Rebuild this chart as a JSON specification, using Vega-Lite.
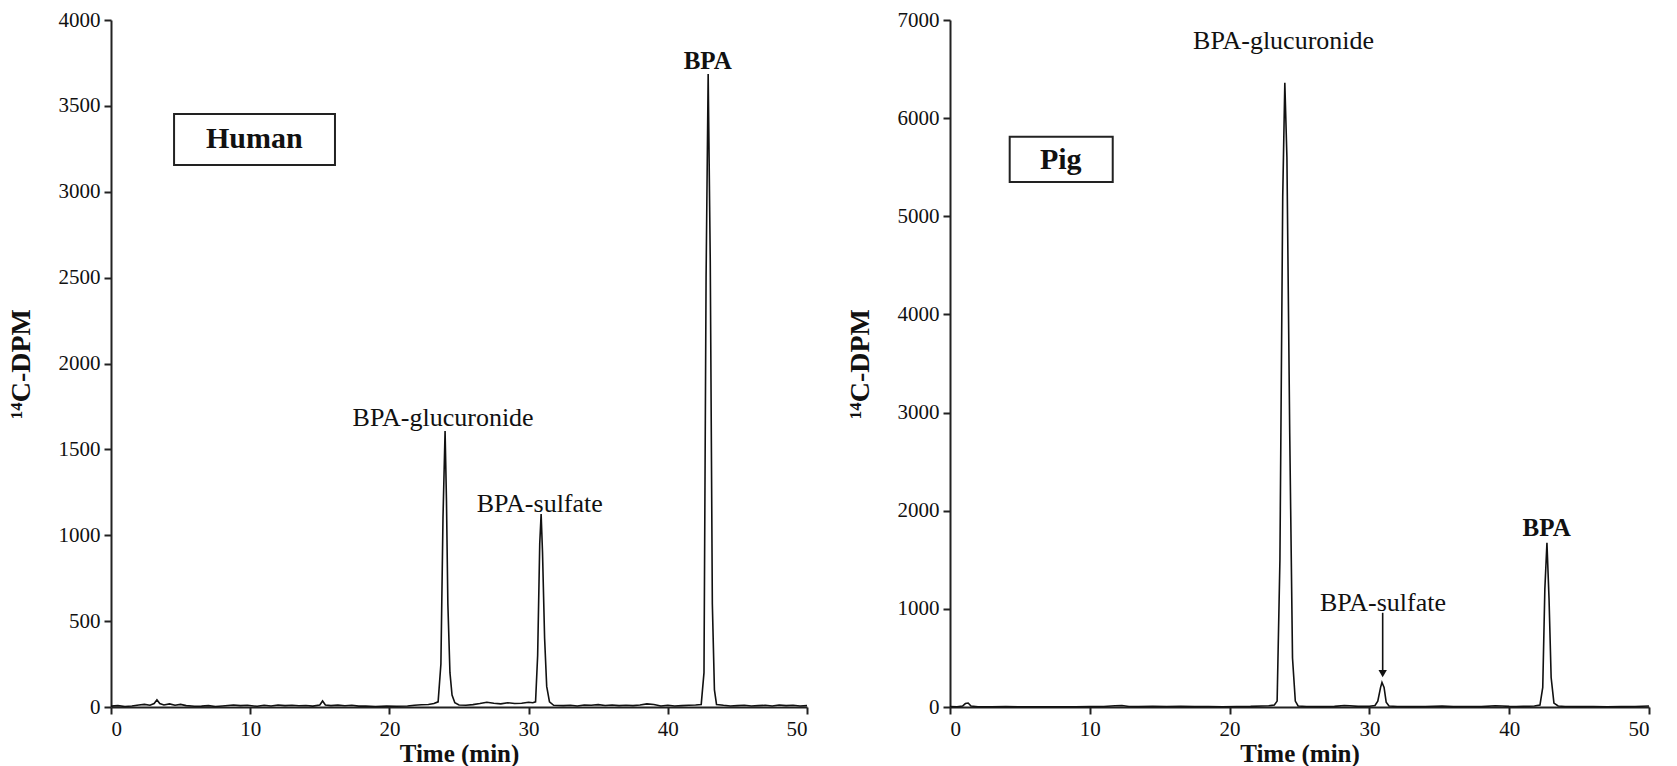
{
  "$schema": "https://vega.github.io/schema/vega-lite/v6.json",
  "background": "white",
  "padding": {"left": 7, "top": 9, "right": 5, "bottom": 0},
  "spacing": 143,
  "bounds": "flush",
  "config": {
    "view": {"stroke": null},
    "font": "Liberation Serif",
    "axis": {
      "grid": false,
      "domainColor": "#222",
      "domainWidth": 2,
      "tickColor": "#222",
      "tickWidth": 2,
      "tickSize": 7,
      "labelColor": "#111",
      "labelFont": "Liberation Serif",
      "labelFontSize": 21,
      "labelPadding": 4,
      "format": "d",
      "titleColor": "#111",
      "titleFont": "Liberation Serif",
      "titleFontSize": 25,
      "titleFontWeight": "bold"
    }
  },
  "datasets": {
    "human": [
      {"t": 0, "v": 5}, {"t": 0.5, "v": 8}, {"t": 1, "v": 3}, {"t": 1.5, "v": 6}, {"t": 2, "v": 12}, {"t": 2.4, "v": 15}, {"t": 2.8, "v": 10}, {"t": 3.1, "v": 20}, {"t": 3.3, "v": 42}, {"t": 3.5, "v": 20}, {"t": 3.8, "v": 12}, {"t": 4.2, "v": 18}, {"t": 4.6, "v": 10}, {"t": 5, "v": 15}, {"t": 5.4, "v": 8}, {"t": 6, "v": 4}, {"t": 6.5, "v": 5}, {"t": 7, "v": 8}, {"t": 7.5, "v": 3}, {"t": 8, "v": 6}, {"t": 8.8, "v": 12}, {"t": 9.3, "v": 8}, {"t": 9.8, "v": 10}, {"t": 10.5, "v": 4}, {"t": 11, "v": 10}, {"t": 11.5, "v": 6}, {"t": 12, "v": 12}, {"t": 12.5, "v": 8}, {"t": 13, "v": 10}, {"t": 13.5, "v": 7}, {"t": 14, "v": 9}, {"t": 14.5, "v": 5}, {"t": 15, "v": 12}, {"t": 15.2, "v": 35}, {"t": 15.4, "v": 12}, {"t": 15.8, "v": 8}, {"t": 16.3, "v": 11}, {"t": 16.8, "v": 7}, {"t": 17.3, "v": 10}, {"t": 17.8, "v": 5}, {"t": 18.3, "v": 6}, {"t": 19, "v": 3}, {"t": 19.8, "v": 5}, {"t": 20.5, "v": 4}, {"t": 21.3, "v": 6}, {"t": 21.8, "v": 10}, {"t": 22.3, "v": 13}, {"t": 22.8, "v": 15}, {"t": 23.2, "v": 20}, {"t": 23.5, "v": 30}, {"t": 23.7, "v": 250}, {"t": 23.85, "v": 1100}, {"t": 24.0, "v": 1607}, {"t": 24.1, "v": 1200}, {"t": 24.2, "v": 600}, {"t": 24.35, "v": 200}, {"t": 24.5, "v": 70}, {"t": 24.7, "v": 25}, {"t": 25, "v": 12}, {"t": 25.5, "v": 10}, {"t": 26, "v": 14}, {"t": 26.5, "v": 20}, {"t": 27, "v": 28}, {"t": 27.5, "v": 22}, {"t": 28, "v": 18}, {"t": 28.5, "v": 25}, {"t": 29, "v": 20}, {"t": 29.5, "v": 22}, {"t": 30, "v": 28}, {"t": 30.3, "v": 25}, {"t": 30.5, "v": 30}, {"t": 30.65, "v": 300}, {"t": 30.8, "v": 950}, {"t": 30.9, "v": 1124}, {"t": 31.0, "v": 900}, {"t": 31.15, "v": 400}, {"t": 31.3, "v": 120}, {"t": 31.5, "v": 30}, {"t": 31.8, "v": 10}, {"t": 32.5, "v": 8}, {"t": 33, "v": 10}, {"t": 33.5, "v": 6}, {"t": 34, "v": 12}, {"t": 34.5, "v": 10}, {"t": 35, "v": 14}, {"t": 35.5, "v": 9}, {"t": 36, "v": 12}, {"t": 36.5, "v": 8}, {"t": 37, "v": 10}, {"t": 37.5, "v": 8}, {"t": 38, "v": 12}, {"t": 38.5, "v": 18}, {"t": 39, "v": 15}, {"t": 39.5, "v": 6}, {"t": 40, "v": 10}, {"t": 40.5, "v": 6}, {"t": 41, "v": 8}, {"t": 41.5, "v": 10}, {"t": 42, "v": 12}, {"t": 42.4, "v": 15}, {"t": 42.6, "v": 200}, {"t": 42.75, "v": 2500}, {"t": 42.9, "v": 3686}, {"t": 43.05, "v": 2600}, {"t": 43.2, "v": 600}, {"t": 43.35, "v": 100}, {"t": 43.5, "v": 15}, {"t": 44, "v": 10}, {"t": 44.5, "v": 6}, {"t": 45, "v": 8}, {"t": 45.5, "v": 10}, {"t": 46, "v": 6}, {"t": 46.5, "v": 8}, {"t": 47, "v": 10}, {"t": 47.5, "v": 6}, {"t": 48, "v": 12}, {"t": 48.5, "v": 8}, {"t": 49, "v": 10}, {"t": 49.5, "v": 6}, {"t": 50, "v": 8}
    ],
    "pig": [
      {"t": 0, "v": 5}, {"t": 0.5, "v": 3}, {"t": 0.9, "v": 10}, {"t": 1.1, "v": 35}, {"t": 1.3, "v": 40}, {"t": 1.5, "v": 10}, {"t": 2, "v": 3}, {"t": 3, "v": 2}, {"t": 4, "v": 4}, {"t": 5, "v": 3}, {"t": 6, "v": 2}, {"t": 7, "v": 3}, {"t": 8, "v": 2}, {"t": 9, "v": 3}, {"t": 10, "v": 4}, {"t": 11, "v": 5}, {"t": 11.8, "v": 12}, {"t": 12.3, "v": 15}, {"t": 12.8, "v": 5}, {"t": 13.5, "v": 4}, {"t": 14.5, "v": 8}, {"t": 15.5, "v": 5}, {"t": 16.5, "v": 6}, {"t": 17.5, "v": 4}, {"t": 18.5, "v": 5}, {"t": 19.5, "v": 3}, {"t": 20.5, "v": 5}, {"t": 21.5, "v": 6}, {"t": 22.3, "v": 10}, {"t": 22.8, "v": 12}, {"t": 23.2, "v": 20}, {"t": 23.4, "v": 60}, {"t": 23.6, "v": 1500}, {"t": 23.8, "v": 5200}, {"t": 23.95, "v": 6360}, {"t": 24.1, "v": 5600}, {"t": 24.3, "v": 2800}, {"t": 24.5, "v": 500}, {"t": 24.7, "v": 60}, {"t": 24.9, "v": 10}, {"t": 25.5, "v": 5}, {"t": 26.5, "v": 4}, {"t": 27.5, "v": 6}, {"t": 28.2, "v": 15}, {"t": 28.6, "v": 12}, {"t": 29.2, "v": 6}, {"t": 30, "v": 8}, {"t": 30.4, "v": 15}, {"t": 30.6, "v": 60}, {"t": 30.8, "v": 200}, {"t": 30.9, "v": 250}, {"t": 31.05, "v": 200}, {"t": 31.2, "v": 50}, {"t": 31.4, "v": 10}, {"t": 32, "v": 5}, {"t": 33, "v": 4}, {"t": 34, "v": 5}, {"t": 35.2, "v": 10}, {"t": 36, "v": 4}, {"t": 37, "v": 5}, {"t": 38, "v": 4}, {"t": 39, "v": 12}, {"t": 39.5, "v": 10}, {"t": 40, "v": 6}, {"t": 40.5, "v": 5}, {"t": 41, "v": 6}, {"t": 41.8, "v": 10}, {"t": 42.2, "v": 20}, {"t": 42.4, "v": 200}, {"t": 42.55, "v": 1200}, {"t": 42.7, "v": 1674}, {"t": 42.85, "v": 1100}, {"t": 43, "v": 300}, {"t": 43.2, "v": 40}, {"t": 43.5, "v": 10}, {"t": 44, "v": 5}, {"t": 45, "v": 4}, {"t": 46, "v": 5}, {"t": 47, "v": 3}, {"t": 48, "v": 4}, {"t": 49, "v": 5}, {"t": 50, "v": 10}
    ],
    "labels": [
      {"panel": "Human", "kind": "box", "t": 10.3, "v": 3307, "text": "Human"},
      {"panel": "Human", "kind": "peak", "t": 23.86, "v": 1684, "text": "BPA-glucuronide"},
      {"panel": "Human", "kind": "peak", "t": 30.8, "v": 1184, "text": "BPA-sulfate"},
      {"panel": "Human", "kind": "bold", "t": 42.87, "v": 3761, "text": "BPA"},
      {"panel": "Pig", "kind": "box", "t": 7.92, "v": 5578, "text": "Pig"},
      {"panel": "Pig", "kind": "peak", "t": 23.86, "v": 6786, "text": "BPA-glucuronide"},
      {"panel": "Pig", "kind": "peak", "t": 30.97, "v": 1063, "text": "BPA-sulfate"},
      {"panel": "Pig", "kind": "bold", "t": 42.68, "v": 1827, "text": "BPA"}
    ],
    "boxes": [
      {"panel": "Human", "x1": 4.53, "x2": 16.09, "y1": 3156, "y2": 3452},
      {"panel": "Pig", "x1": 4.27, "x2": 11.64, "y1": 5350, "y2": 5811}
    ],
    "arrow": [{"t": 30.95, "v1": 960, "v2": 370}],
    "arrowhead": [{"t": 30.95, "v": 340}]
  },
  "hconcat": [
    {
      "width": 696,
      "height": 687,
      "encoding": {
        "x": {"type": "quantitative", "scale": {"domain": [0, 50], "nice": false}, "axis": {"values": [0, 10, 20, 30, 40, 50], "title": "Time (min)", "titlePadding": 2}},
        "y": {"type": "quantitative", "scale": {"domain": [0, 4000], "nice": false}, "axis": {"values": [0, 500, 1000, 1500, 2000, 2500, 3000, 3500, 4000], "title": "¹⁴C-DPM", "titleFontSize": 28, "titlePadding": 23}}
      },
      "layer": [
        {
          "data": {"name": "human"},
          "mark": {"type": "line", "color": "#111", "strokeWidth": 1.6},
          "encoding": {"x": {"field": "t", "type": "quantitative"}, "y": {"field": "v", "type": "quantitative"}}
        },
        {
          "data": {"name": "boxes"},
          "transform": [{"filter": "datum.panel === 'Human'"}],
          "mark": {"type": "rect", "fill": null, "fillOpacity": 0, "stroke": "#222", "strokeWidth": 2},
          "encoding": {"x": {"field": "x1", "type": "quantitative"}, "x2": {"field": "x2"}, "y": {"field": "y1", "type": "quantitative"}, "y2": {"field": "y2"}}
        },
        {
          "data": {"name": "labels"},
          "transform": [{"filter": "datum.panel === 'Human' && datum.kind === 'box'"}],
          "mark": {"type": "text", "font": "Liberation Serif", "fontSize": 30, "fontWeight": "bold", "color": "#111", "baseline": "middle", "align": "center"},
          "encoding": {"x": {"field": "t", "type": "quantitative"}, "y": {"field": "v", "type": "quantitative"}, "text": {"field": "text"}}
        },
        {
          "data": {"name": "labels"},
          "transform": [{"filter": "datum.panel === 'Human' && datum.kind === 'peak'"}],
          "mark": {"type": "text", "font": "Liberation Serif", "fontSize": 26, "color": "#111", "baseline": "middle", "align": "center"},
          "encoding": {"x": {"field": "t", "type": "quantitative"}, "y": {"field": "v", "type": "quantitative"}, "text": {"field": "text"}}
        },
        {
          "data": {"name": "labels"},
          "transform": [{"filter": "datum.panel === 'Human' && datum.kind === 'bold'"}],
          "mark": {"type": "text", "font": "Liberation Serif", "fontSize": 25, "fontWeight": "bold", "color": "#111", "baseline": "middle", "align": "center"},
          "encoding": {"x": {"field": "t", "type": "quantitative"}, "y": {"field": "v", "type": "quantitative"}, "text": {"field": "text"}}
        }
      ]
    },
    {
      "width": 699,
      "height": 687,
      "encoding": {
        "x": {"type": "quantitative", "scale": {"domain": [0, 50], "nice": false}, "axis": {"values": [0, 10, 20, 30, 40, 50], "title": "Time (min)", "titlePadding": 2}},
        "y": {"type": "quantitative", "scale": {"domain": [0, 7000], "nice": false}, "axis": {"values": [0, 1000, 2000, 3000, 4000, 5000, 6000, 7000], "title": "¹⁴C-DPM", "titleFontSize": 28, "titlePadding": 23}}
      },
      "layer": [
        {
          "data": {"name": "pig"},
          "mark": {"type": "line", "color": "#111", "strokeWidth": 1.6},
          "encoding": {"x": {"field": "t", "type": "quantitative"}, "y": {"field": "v", "type": "quantitative"}}
        },
        {
          "data": {"name": "boxes"},
          "transform": [{"filter": "datum.panel === 'Pig'"}],
          "mark": {"type": "rect", "fill": null, "fillOpacity": 0, "stroke": "#222", "strokeWidth": 2},
          "encoding": {"x": {"field": "x1", "type": "quantitative"}, "x2": {"field": "x2"}, "y": {"field": "y1", "type": "quantitative"}, "y2": {"field": "y2"}}
        },
        {
          "data": {"name": "labels"},
          "transform": [{"filter": "datum.panel === 'Pig' && datum.kind === 'box'"}],
          "mark": {"type": "text", "font": "Liberation Serif", "fontSize": 30, "fontWeight": "bold", "color": "#111", "baseline": "middle", "align": "center"},
          "encoding": {"x": {"field": "t", "type": "quantitative"}, "y": {"field": "v", "type": "quantitative"}, "text": {"field": "text"}}
        },
        {
          "data": {"name": "labels"},
          "transform": [{"filter": "datum.panel === 'Pig' && datum.kind === 'peak'"}],
          "mark": {"type": "text", "font": "Liberation Serif", "fontSize": 26, "color": "#111", "baseline": "middle", "align": "center"},
          "encoding": {"x": {"field": "t", "type": "quantitative"}, "y": {"field": "v", "type": "quantitative"}, "text": {"field": "text"}}
        },
        {
          "data": {"name": "labels"},
          "transform": [{"filter": "datum.panel === 'Pig' && datum.kind === 'bold'"}],
          "mark": {"type": "text", "font": "Liberation Serif", "fontSize": 25, "fontWeight": "bold", "color": "#111", "baseline": "middle", "align": "center"},
          "encoding": {"x": {"field": "t", "type": "quantitative"}, "y": {"field": "v", "type": "quantitative"}, "text": {"field": "text"}}
        },
        {
          "data": {"name": "arrow"},
          "mark": {"type": "rule", "color": "#111", "strokeWidth": 1.6},
          "encoding": {"x": {"field": "t", "type": "quantitative"}, "y": {"field": "v1", "type": "quantitative"}, "y2": {"field": "v2"}}
        },
        {
          "data": {"name": "arrowhead"},
          "mark": {"type": "point", "shape": "triangle-down", "filled": true, "color": "#111", "size": 70, "opacity": 1},
          "encoding": {"x": {"field": "t", "type": "quantitative"}, "y": {"field": "v", "type": "quantitative"}}
        }
      ]
    }
  ]
}
